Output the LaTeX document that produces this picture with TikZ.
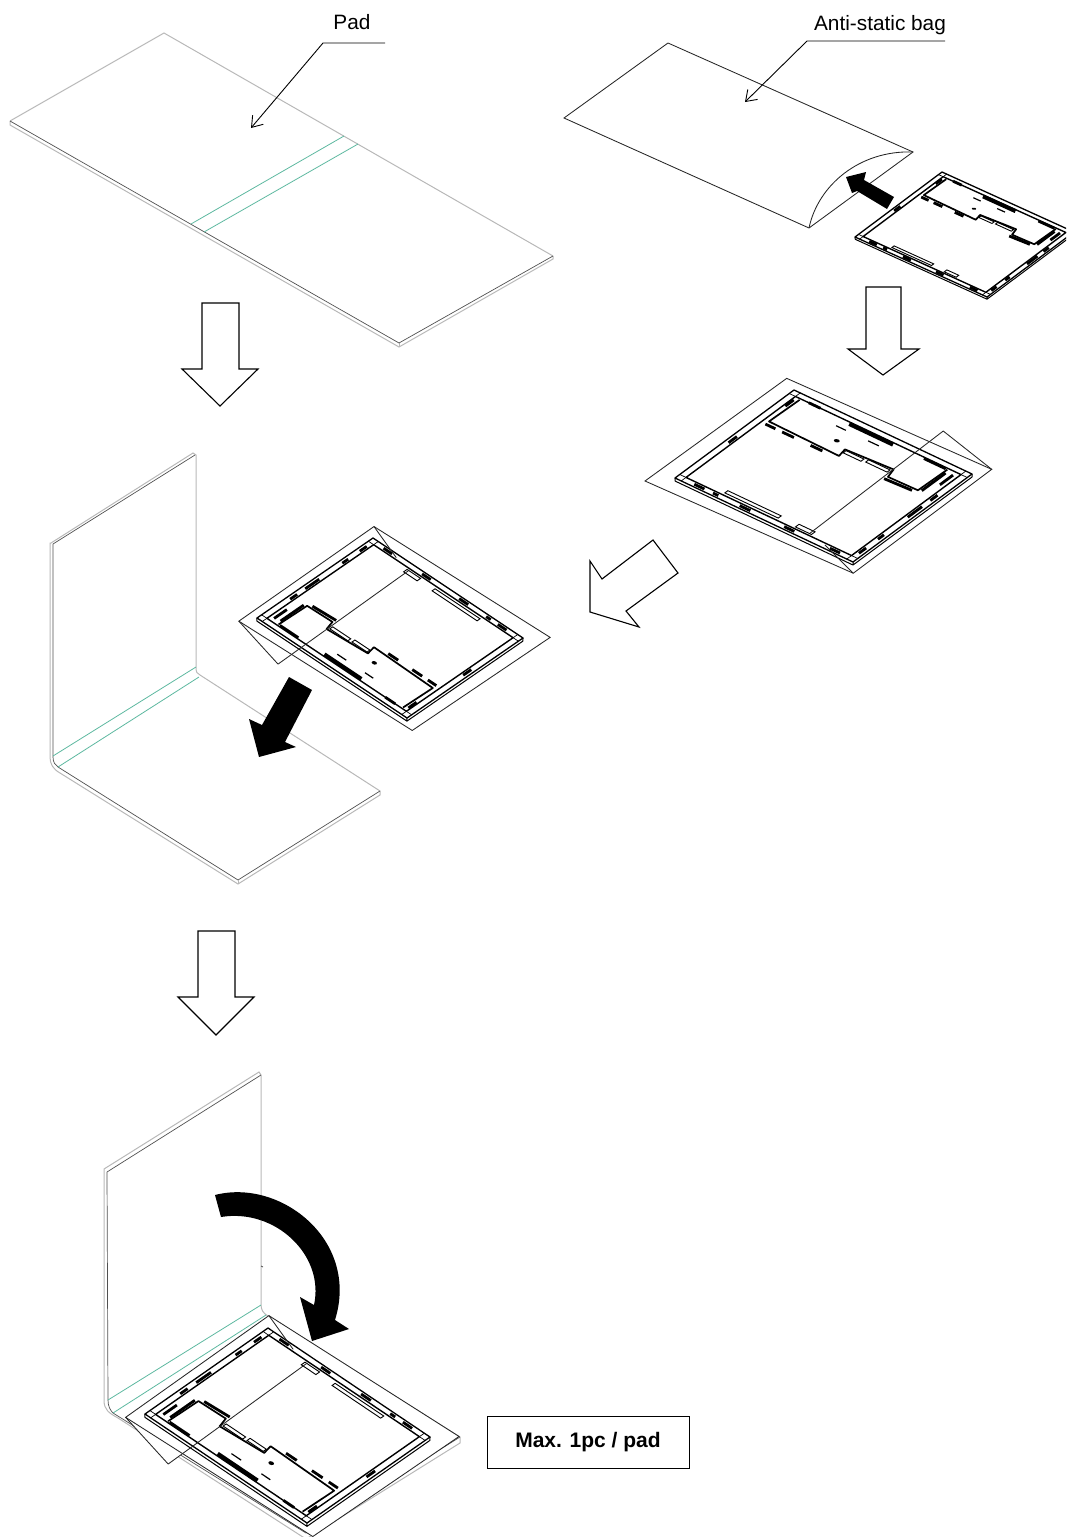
\documentclass[tikz,border=0pt]{standalone}
\usepackage{fontspec}
\setmainfont{Liberation Sans}
\usetikzlibrary{arrows.meta}

\definecolor{padgreen}{HTML}{5DB8A0}
\definecolor{padgrey}{HTML}{B8B8B8}
\definecolor{paddark}{HTML}{505050}

\tikzset{
  boardat/.style n args={6}{shift={(#1,#2)},x={(#3pt,#4pt)},y={(#5pt,#6pt)}},
  padgrey/.style={draw=padgrey,line width=1pt},
  paddark/.style={draw=paddark,line width=0.7pt},
  padfold/.style={draw=padgreen,line width=0.8pt},
  bagline/.style={draw=black!85,line width=0.85pt},
  frameline/.style={draw=black,line width=1pt,line join=round},
  blob/.style={draw=black,line width=2.8pt},
  bigblob/.style={draw=black,line width=4pt},
  slim/.style={draw=black,line width=0.7pt},
  hollow/.style={draw=black,line width=1.1pt,fill=white,line join=miter},
  solid/.style={fill=black,draw=none}
}

% board drawn on the unit square, placed by boardat
\newcommand\boardparts{
  \draw[frameline,fill=white,line width=1.3pt] (0,0) -- (1,0) -- (1,1) -- (0,1) -- cycle;
  \draw[frameline,line width=1.4pt] (.035,.04) -- (.965,.04) -- (.965,.96) -- (.035,.96) -- cycle;
  % corner squares
  \foreach \a/\b/\c/\d in {.035/0/.035/.04, 0/.04/.035/.04, .965/0/.965/.04, 1/.04/.965/.04,
      .965/1/.965/.96, 1/.96/.965/.96, .035/1/.035/.96, 0/.96/.035/.96}
    \draw[slim] (\a,\b) -- (\c,\d);
  % pcb outline
  \draw[frameline,line width=1.7pt] (.065,.95) -- (.06,.70) -- (.46,.69) -- (.45,.755) -- (.71,.775) -- (.725,.705) -- (.89,.71) -- (.895,.95);
  \foreach \a/\b/\c/\d in {.11/.96/.176/.96, .763/.95/.886/.95,
      .06/.67/.116/.67, .154/.67/.22/.67, .314/.67/.38/.67, .72/.68/.87/.69,
      .095/.02/.152/.02, .2/.02/.23/.02, .35/.02/.41/.02, .6/.02/.657/.02, .857/.02/.914/.02,
      .98/.08/.98/.14, .98/.24/.98/.29, .98/.49/.98/.61, .98/.68/.98/.74,
      .02/.42/.02/.49, .905/.72/.905/.92, .94/.82/.94/.93, .045/.86/.045/.93}
    \draw[blob] (\a,\b) -- (\c,\d);
  \draw[bigblob] (.347,.945) -- (.593,.945);
  \foreach \a/\b/\c/\d in {.24/.06/.54/.085, .64/.055/.73/.085, .46/.725/.56/.75, .58/.735/.70/.76}
    \draw[slim,line width=0.9pt] (\a,\b) -- (\c,\b) -- (\c,\d) -- (\a,\d) -- cycle;
  \foreach \a/\b/\c in {.31/.89/.365, .49/.89/.55}
    \draw[slim,line width=1.2pt] (\a,\b) -- (\c,\b);
  \fill (.382,.788) circle (.014);
}
% flat bag round the board
\newcommand\bagback{
  \fill[white] (1.046,1.097) -- (.702,1.204) -- (.719,.058) -- (.825,.026) -- (1.053,-.077) -- cycle;
  \draw[bagline,fill=white] (-.079,1.057) -- (1.046,1.097) -- (1.053,-.077) -- (-.089,-.119) -- cycle;
}
\newcommand\bagflap{
  \draw[bagline,line join=round] (1.046,1.097) -- (.702,1.204) -- (.719,.058);
  \draw[bagline] (.825,.026) -- (1.053,-.077);
}
\newcommand\depthfront{\draw[frameline] (.014,-.021) -- (1.014,-.021) -- (1.014,.979) -- (1,1) (0,0) -- (.014,-.021) (1,0) -- (1.014,-.021);}
\newcommand\depthturned{\draw[frameline] (.985,1.02) -- (-.015,1.02) -- (-.015,.02) -- (0,0) (1,1) -- (.985,1.02) (0,1) -- (-.015,1.02);}

\begin{document}
\begin{tikzpicture}[x=1pt,y=-1pt,font=\fontsize{20.8}{24}\selectfont,>={Straight Barb[length=10pt,width=14pt]}]
\useasboundingbox (0,0) rectangle (1066,1537);
\clip (0,0) rectangle (1066,1537);

% flat pad
\draw[padgrey] (10,121) -- (164,33) -- (553,256);
\draw[padgrey] (10,121) -- (10,125) -- (399,347) -- (553,259) -- (553,256);
\draw[padgrey] (399,343) -- (399,347);
\draw[paddark] (10,121) -- (399,343) -- (553,256);
\draw[padfold] (344,136) -- (191,224);
\draw[padfold] (358,144) -- (204,232);
\node[inner sep=0pt] (padlabel) at (352,22) {Pad};
\coordinate (padend) at (385,43);
\coordinate (padknee) at (323,43);
\coordinate (padtip) at (251,128);
\draw[black,line width=0.9pt,->] (padend) -- (padknee) -- (padtip);

% open bag
\draw[bagline] (809,228) -- (564,118) -- (668,43) -- (913,152) -- (809,228);
\draw[bagline] (809,228) .. controls (818,185) and (860,150) .. (913,152);
\node[inner sep=0pt] (baglabel) at (880,25) {Anti-static bag};
\coordinate (bagend) at (945,41);
\coordinate (bagknee) at (807,41);
\coordinate (bagtip) at (745,102);
\draw[black,line width=0.9pt,->] (bagend) -- (bagknee) -- (bagtip);

% bare board going in
\begin{scope}[boardat={855}{237}{132}{-60}{87}{65}]
  \depthfront
  \boardparts
\end{scope}
\fill[solid] (846,177) -- (866,172) -- (864,180) -- (894,197) -- (887,209) -- (857,191) -- (852,193) -- cycle;

% step arrows
\draw[hollow] (202,303) -- (239,303) -- (239,369) -- (258,369) -- (220,406) -- (182,369) -- (202,369) -- cycle;
\draw[hollow] (866,287) -- (901,287) -- (901,349) -- (919,349) -- (883,375) -- (848,349) -- (866,349) -- cycle;
\draw[hollow] (198,931) -- (235,931) -- (235,997) -- (254,997) -- (216,1035) -- (178,997) -- (198,997) -- cycle;
\draw[hollow] (653,540) -- (678,573) -- (626,611) -- (639,627) -- (590,612) -- (590,561) -- (602,579) -- cycle;

% board in bag
\begin{scope}[boardat={675}{478}{178}{-84}{119}{88}]
  \bagback
  \depthfront
  \boardparts
  \bagflap
\end{scope}

% folded pad, second step
\draw[padgrey] (51,543) -- (193,453) -- (196,455) -- (196,667) .. controls (196,672) and (197,674) .. (200,675) -- (380,791) -- (380,795) -- (238,884) -- (60,773) .. controls (53,769) and (50,764) .. (50,757) -- (50,543) -- cycle;
\draw[paddark] (53,757) -- (53,544) -- (195,455);
\draw[paddark] (53,757) .. controls (53,762) and (55,765) .. (58,767) -- (238,880) -- (380,791);
\draw[padgrey] (238,880) -- (238,884);
\draw[padfold] (196,667) -- (53,756);
\draw[padfold] (199,677) -- (58,767);

\begin{scope}[boardat={523}{638}{-150}{100}{-116}{-80}]
  \bagback
  \depthturned
  \boardparts
  \bagflap
\end{scope}
\fill[solid] (289,677) -- (312,690) -- (285,742) -- (296,747) -- (259,757) -- (249,719) -- (262,725) -- cycle;

% folded pad, third step
\draw[padgrey] (104,1169) -- (259,1072) -- (261,1075) -- (261,1304) .. controls (261,1310) and (263,1313) .. (268,1316) -- (460,1437) -- (460,1443) -- (306,1539) -- (118,1418) .. controls (109,1413) and (104,1410) .. (104,1400) -- cycle;
\draw[paddark] (108,1400) -- (107,1172) -- (261,1075);
\draw[paddark] (108,1400) .. controls (108,1406) and (110,1410) .. (113,1413) -- (306,1533) -- (460,1437);
\draw[padfold] (261,1305) -- (108,1400);
\draw[padfold] (266,1315) -- (113,1413);
\draw[paddark] (261,1266) -- (263,1267);

\begin{scope}[boardat={430}{1437}{-162}{109}{-123}{-86}]
  \bagback
  \depthturned
  \boardparts
  \bagflap
\end{scope}
\fill[solid] (215,1195) .. controls (280,1178) and (360,1240) .. (335,1320) -- (349,1329) -- (312,1341) -- (300,1297) -- (314,1305) .. controls (325,1255) and (275,1208) .. (221,1217) -- cycle;

\node[draw=black,line width=0.9pt,minimum width=202pt,minimum height=52pt,inner sep=0pt,font=\fontsize{21}{24}\selectfont\bfseries] (maxbox) at (588,1442) {\raisebox{-2pt}{Max. 1pc / pad}};
\end{tikzpicture}
\end{document}
